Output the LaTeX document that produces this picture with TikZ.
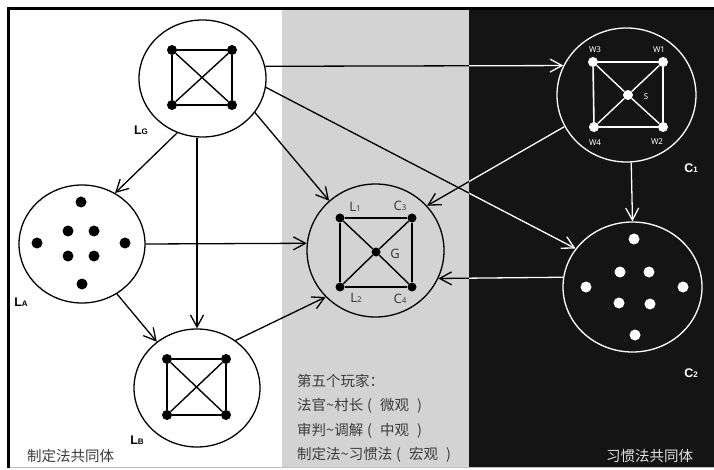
\documentclass[tikz,border=0pt]{standalone}
\usepackage{fontspec}
\setmainfont{Noto Sans}
\newfontfamily\cjk{Noto Sans CJK SC}
\newfontfamily\tagfont{Liberation Sans}
\usetikzlibrary{shapes.geometric,arrows.meta}
\definecolor{bandgray}{RGB}{211,211,211}
\definecolor{night}{RGB}{20,20,20}
\definecolor{ink}{RGB}{60,60,60}
\tikzset{%
  grp/.style = { ellipse, draw, line width=1.3pt, inner sep=0pt },
  dot/.style = { circle, fill, inner sep=0pt, minimum size=10pt },
  sdot/.style = { circle, fill, inner sep=0pt, minimum size=9pt },
  rim/.style = { line width=1.9pt },
  cross/.style = { line width=1.4pt },
  arr/.style = { line width=1.3pt, -{Straight Barb[length=12pt,width=13pt]} },
  lab/.style = { text=ink, font=\fontsize{13}{13}\selectfont },
  tag/.style = { font=\tagfont\bfseries\fontsize{12.5}{12.5}\selectfont },
  wlab/.style = { text=white, font=\fontsize{8}{8}\selectfont },
  note/.style = { anchor=base west, text=ink, inner sep=0pt, font=\cjk\fontsize{14.5}{14.5}\selectfont }
}
\newcommand\sm[1]{{\fontsize{8}{8}\selectfont #1}}
\newcommand\lp{\hspace{4pt}(\hspace{8pt}}
\newcommand\rp{\hspace{8pt})}
% connectors between the groups
\newcommand\grouplinks{%
  \draw[arr] (LG.245) -- (LA.57);
  \draw[arr] (LG.south -| LB.north) -- (LB.north);
  \draw[arr] (LG.-33) -- (G.133);
  \draw[arr] (LG.-8) -- (C2.146);
  \draw[arr] (LG.11) -- (C1.155);
  \draw[arr] (LA.east) -- (G.174);
  \draw[arr] (LA.-55) -- (LB.131);
  \draw[arr] (LB.51) -- (G.223);
  \draw[arr] (C1.207) -- (G.41);
  \draw[arr] (C1.-86) -- (C2.north);
  \draw[arr] (C2.172) -- (G.-24);
}

\begin{document}
\begin{tikzpicture}[x=1pt,y=-1pt]

  \useasboundingbox (0,0) rectangle (714,470);

  % Backgrounds
  \fill[bandgray] (282,10) rectangle (469,467);
  \fill[night] (469,8) rectangle (714,467);
  \draw[gray!50,line width=0.8pt] (8,467.6) -- (714,467.6);
  \draw[line width=3pt] (8,468) -- (8,9) -- (714,9);

  % Groups
  \node[grp,minimum width=127pt,minimum height=117pt] (LG) at (202.5,78.5) {};
  \node[grp,minimum width=126pt,minimum height=118pt] (LA) at (82,244) {};
  \node[grp,minimum width=126pt,minimum height=118pt] (LB) at (197,388) {};
  \node[grp,minimum width=137pt,minimum height=133pt] (G) at (375.5,250.5) {};
  \node[grp,draw=white,minimum width=139pt,minimum height=134pt] (C1) at (626.5,95) {};
  \node[grp,draw=white,minimum width=139pt,minimum height=130pt] (C2) at (632.5,287) {};

  % LG
  \foreach \n/\x/\y in {a/172/50, b/232/50, c/172/105, d/232/105} {
    \node[dot] (LG\n) at (\x,\y) {};
  }
  \draw[rim] (LGa) -- (LGb) -- (LGd) -- (LGc) -- (LGa);
  \draw[cross] (LGa) -- (LGd) (LGb) -- (LGc);
  \node[tag] (LGtag) at (141,130) {L\sm{G}};

  % LA
  \foreach \n/\x/\y in {a/81/202, b/68/231, c/94/231, d/37/243, e/125/243, f/68/256, g/94/256, h/82/284} {
    \node[dot,minimum size=11pt] (LA\n) at (\x,\y) {};
  }
  \node[tag] (LAtag) at (21,302) {L\sm{A}};

  % LB
  \foreach \n/\x/\y in {a/167/359, b/226/359, c/167/415, d/226/415} {
    \node[dot] (LB\n) at (\x,\y) {};
  }
  \draw[rim] (LBa) -- (LBb) -- (LBd) -- (LBc) -- (LBa);
  \draw[cross] (LBa) -- (LBd) (LBb) -- (LBc);
  \node[tag] (LBtag) at (137,440) {L\sm{B}};

  % G
  \foreach \n/\x/\y in {a/340/218, b/412/218, c/340/287, d/412/287, e/376/252} {
    \node[sdot] (G\n) at (\x,\y) {};
  }
  \draw[rim] (Ga) -- (Gb) -- (Gd) -- (Gc) -- (Ga);
  \draw[cross] (Ga) -- (Ge) -- (Gd) (Gb) -- (Ge) -- (Gc);
  \node[lab] (GL1) at (355,207) {L\sm{1}};
  \node[lab] (GC3) at (400,206) {C\sm{3}};
  \node[lab] (GG) at (395,254) {G};
  \node[lab] (GL2) at (356,298) {L\sm{2}};
  \node[lab] (GC4) at (400,299) {C\sm{4}};

  % C1
  \foreach \n/\x/\y in {a/593/62, b/663/62, c/594/127, d/663/127, e/628/95} {
    \node[dot,white] (C1\n) at (\x,\y) {};
  }
  \draw[rim,white,line width=1.6pt] (C1a) -- (C1b) -- (C1d) -- (C1c) -- (C1a);
  \draw[cross,white] (C1a) -- (C1e) -- (C1d) (C1b) -- (C1e) -- (C1c);
  \node[wlab] (W3) at (595,50) {W3};
  \node[wlab] (W1) at (659,50) {W1};
  \node[wlab] (S) at (646,97) {S};
  \node[wlab] (W4) at (595,143) {W4};
  \node[wlab] (W2) at (657,142) {W2};
  \node[tag,text=white] (C1tag) at (691,168) {C\sm{1}};

  % C2
  \foreach \n/\x/\y in {a/634/239, b/620/272, c/649/272, d/586/287, e/683/287, f/619/303, g/650/304, h/635/335} {
    \node[dot,white,minimum size=11pt] (C2\n) at (\x,\y) {};
  }
  \node[tag,text=white] (C2tag) at (691,373) {C\sm{2}};

  % Links, black outside the night side, white on it
  \grouplinks
  \begin{scope}[white]
    \clip (469,8) rectangle (714,467);
    \grouplinks
  \end{scope}

  % Texts
  \node[note] (n1) at (297,386) {第五个玩家：};
  \node[note] (n2) at (297,410.5) {法官\textasciitilde 村长\lp 微观\rp};
  \node[note] (n3) at (297,435) {审判\textasciitilde 调解\lp 中观\rp};
  \node[note] (n4) at (297,459.5) {制定法\textasciitilde 习惯法\lp 宏观\rp};
  \node[note] (left) at (27,461.5) {制定法共同体};
  \node[note,text=white!88!black] (right) at (606,461.5) {习惯法共同体};

\end{tikzpicture}
\end{document}
